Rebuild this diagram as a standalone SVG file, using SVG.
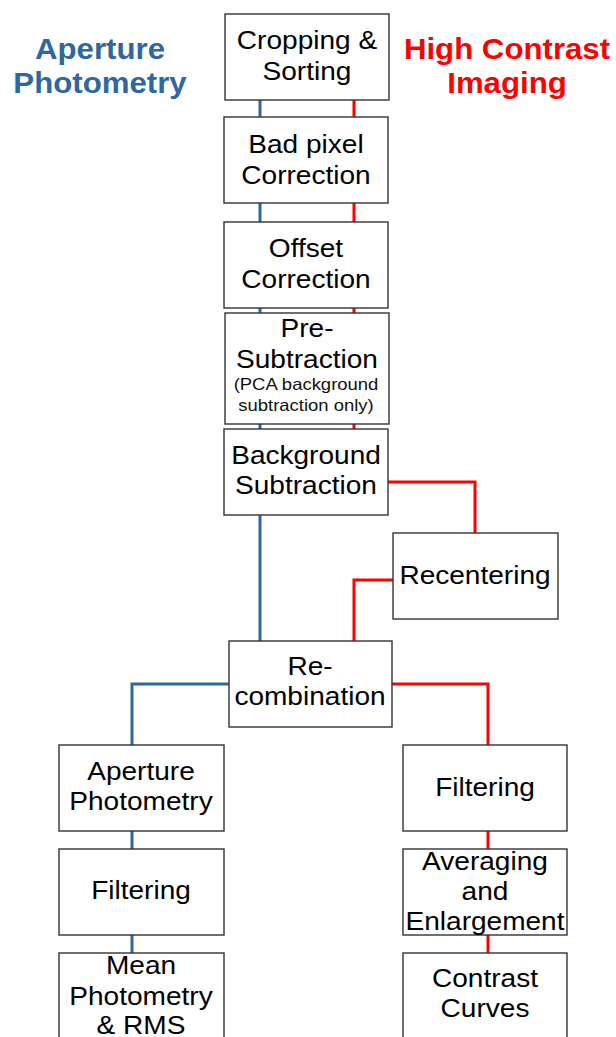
<svg xmlns="http://www.w3.org/2000/svg" width="616" height="1037" viewBox="0 0 616 1037">
<style>
.box{fill:#fff;stroke:#333;stroke-width:1.4}
.t{font-family:"Liberation Sans",Arial,sans-serif;font-size:25.5px;fill:#000;text-anchor:middle}
.s{font-family:"Liberation Sans",Arial,sans-serif;font-size:16.5px;fill:#111;text-anchor:middle}
.h{font-family:"Liberation Sans",Arial,sans-serif;font-size:30px;font-weight:bold;text-anchor:middle}
.b{fill:none;stroke:#2f67a0;stroke-width:3}
.r{fill:none;stroke:#ff0000;stroke-width:3}
</style>
<rect width="616" height="1037" fill="#fff"/>
<g id="titles">
<text class="h" fill="#2f67a0" transform="translate(100 0) scale(1.04 1)" y="59">Aperture</text>
<text class="h" fill="#2f67a0" transform="translate(100 0) scale(1.04 1)" y="93">Photometry</text>
<text class="h" fill="#ff0000" transform="translate(507 0) scale(1.04 1)" y="59">High Contrast</text>
<text class="h" fill="#ff0000" transform="translate(507 0) scale(1.04 1)" y="93">Imaging</text>
</g>
<g id="connectors">
<path class="b" d="M260 100V641"/>
<path class="r" d="M354 100V429"/>
<path class="r" d="M388 482H475V533"/>
<path class="r" d="M393 580H354V641"/>
<path class="b" d="M229 684H132V745"/>
<path class="r" d="M392 684H488V745"/>
<path class="b" d="M132 831V953"/>
<path class="r" d="M488 831V953"/>
</g>
<g id="n1"><rect class="box" x="225" y="14" width="164" height="86"/>
<text class="t" transform="translate(307 0) scale(1.1 1)" y="49">Cropping &amp;</text>
<text class="t" transform="translate(307 0) scale(1.1 1)" y="80">Sorting</text></g>
<g id="n2"><rect class="box" x="224" y="117" width="164" height="86"/>
<text class="t" transform="translate(306 0) scale(1.1 1)" y="153">Bad pixel</text>
<text class="t" transform="translate(306 0) scale(1.1 1)" y="184">Correction</text></g>
<g id="n3"><rect class="box" x="224" y="222" width="164" height="86"/>
<text class="t" transform="translate(306 0) scale(1.1 1)" y="257">Offset</text>
<text class="t" transform="translate(306 0) scale(1.1 1)" y="288">Correction</text></g>
<g id="n4"><rect class="box" x="225" y="313" width="164" height="111"/>
<text class="t" transform="translate(307 0) scale(1.1 1)" y="337">Pre-</text>
<text class="t" transform="translate(307 0) scale(1.1 1)" y="368">Subtraction</text>
<text class="s" transform="translate(306 0) scale(1.12 1)" y="390">(PCA background</text>
<text class="s" transform="translate(306 0) scale(1.12 1)" y="411">subtraction only)</text></g>
<g id="n5"><rect class="box" x="224" y="429" width="164" height="86"/>
<text class="t" transform="translate(306 0) scale(1.1 1)" y="464">Background</text>
<text class="t" transform="translate(306 0) scale(1.1 1)" y="494">Subtraction</text></g>
<g id="n6"><rect class="box" x="393" y="533" width="165" height="86"/>
<text class="t" transform="translate(475 0) scale(1.1 1)" y="584">Recentering</text></g>
<g id="n7"><rect class="box" x="229" y="641" width="163" height="86"/>
<text class="t" transform="translate(310 0) scale(1.1 1)" y="675">Re-</text>
<text class="t" transform="translate(310 0) scale(1.1 1)" y="705">combination</text></g>
<g id="n8"><rect class="box" x="59" y="745" width="165" height="86"/>
<text class="t" transform="translate(141 0) scale(1.1 1)" y="780">Aperture</text>
<text class="t" transform="translate(141 0) scale(1.1 1)" y="810">Photometry</text></g>
<g id="n9"><rect class="box" x="59" y="849" width="165" height="86"/>
<text class="t" transform="translate(141 0) scale(1.1 1)" y="899">Filtering</text></g>
<g id="n10"><rect class="box" x="59" y="953" width="165" height="100"/>
<text class="t" transform="translate(141 0) scale(1.1 1)" y="974">Mean</text>
<text class="t" transform="translate(141 0) scale(1.1 1)" y="1005">Photometry</text>
<text class="t" transform="translate(141 0) scale(1.1 1)" y="1034">&amp; RMS</text></g>
<g id="n11"><rect class="box" x="403" y="745" width="164" height="86"/>
<text class="t" transform="translate(485 0) scale(1.1 1)" y="796">Filtering</text></g>
<g id="n12"><rect class="box" x="403" y="849" width="164" height="86"/>
<text class="t" transform="translate(485 0) scale(1.1 1)" y="870">Averaging</text>
<text class="t" transform="translate(485 0) scale(1.1 1)" y="900">and</text>
<text class="t" transform="translate(485 0) scale(1.1 1)" y="930">Enlargement</text></g>
<g id="n13"><rect class="box" x="403" y="953" width="164" height="100"/>
<text class="t" transform="translate(485 0) scale(1.1 1)" y="987">Contrast</text>
<text class="t" transform="translate(485 0) scale(1.1 1)" y="1017">Curves</text></g>
</svg>
